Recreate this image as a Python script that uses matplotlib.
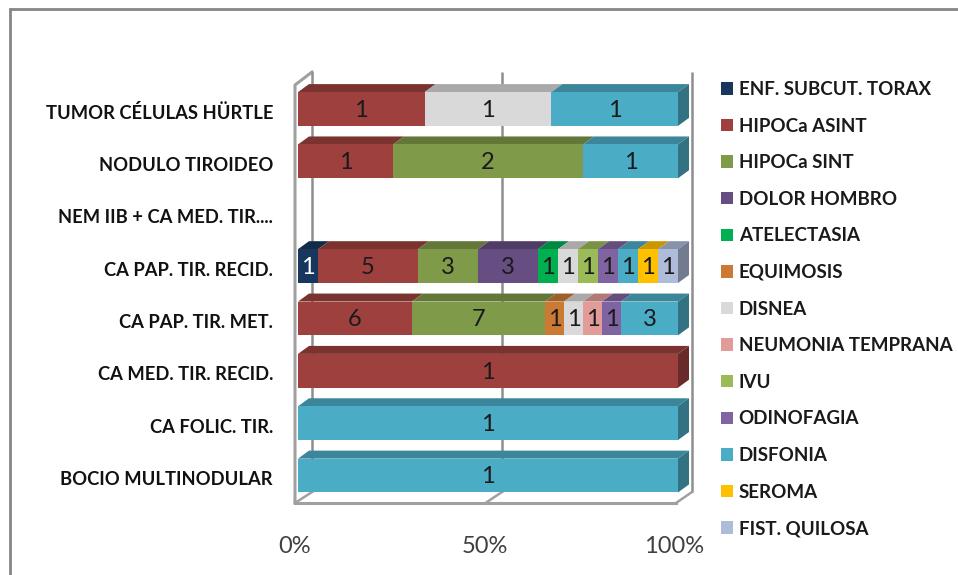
#!/usr/bin/env python3
"""Stacked 100% horizontal bars with a drawn 3D box: complications per diagnosis."""
import matplotlib
matplotlib.use("Agg")
import matplotlib.pyplot as plt
import numpy as np
from matplotlib.patches import Polygon
from matplotlib.transforms import ScaledTranslation

W, H = 958, 575
plt.rcParams["font.family"] = ["Lato", "DejaVu Sans"]

categories = [
    "TUMOR CÉLULAS HÜRTLE",
    "NODULO TIROIDEO",
    "NEM IIB + CA MED. TIR....",
    "CA PAP. TIR. RECID.",
    "CA PAP. TIR. MET.",
    "CA MED. TIR. RECID.",
    "CA FOLIC. TIR.",
    "BOCIO MULTINODULAR",
]
series_names = [
    "ENF. SUBCUT. TORAX", "HIPOCa ASINT", "HIPOCa SINT", "DOLOR HOMBRO",
    "ATELECTASIA", "EQUIMOSIS", "DISNEA", "NEUMONIA TEMPRANA", "IVU",
    "ODINOFAGIA", "DISFONIA", "SEROMA", "FIST. QUILOSA",
]
series_colors = [
    "#17375E", "#9E413E", "#7F9A48", "#664E82", "#00B050", "#CC7A33", "#D9D9D9",
    "#E19C9A", "#9BBB59", "#8064A2", "#4BACC6", "#FFC000", "#AEBBD9",
]
# one row per series, one column per category
enf_subcut = [0, 0, 0, 1, 0, 0, 0, 0]
hipoca_asint = [1, 1, 0, 5, 6, 1, 0, 0]
hipoca_sint = [0, 2, 0, 3, 7, 0, 0, 0]
dolor_hombro = [0, 0, 0, 3, 0, 0, 0, 0]
atelectasia = [0, 0, 0, 1, 0, 0, 0, 0]
equimosis = [0, 0, 0, 0, 1, 0, 0, 0]
disnea = [1, 0, 0, 1, 1, 0, 0, 0]
neumonia = [0, 0, 0, 0, 1, 0, 0, 0]
ivu = [0, 0, 0, 1, 0, 0, 0, 0]
odinofagia = [0, 0, 0, 1, 1, 0, 0, 0]
disfonia = [1, 1, 0, 1, 3, 0, 1, 1]
seroma = [0, 0, 0, 1, 0, 0, 0, 0]
fist_quilosa = [0, 0, 0, 1, 0, 0, 0, 0]
all_series = [
    enf_subcut, hipoca_asint, hipoca_sint, dolor_hombro, atelectasia, equimosis,
    disnea, neumonia, ivu, odinofagia, disfonia, seroma, fist_quilosa,
]
pct_ticks = [0, 50, 100]

fig = plt.figure(figsize=(W / 100, H / 100), dpi=100, facecolor="white")

# pixel-space layer for the sheet border and the box walls
bg = fig.add_axes([0, 0, 1, 1], zorder=0)
bg.set_xlim(0, W)
bg.set_ylim(H, 0)
bg.axis("off")

GREY = "#8E8E8E"
bg.plot([10, 10, W], [H, 9, 9], color="#858585", lw=2.0, solid_joinstyle="miter")
bg.plot([295, 295, 312], [503, 85, 72], color="#A0A0A0", lw=2.2)
bg.plot([295, 676], [503, 503], color="#A0A0A0", lw=2.2)
for p in pct_ticks:
    back_x = 312 + p * 3.8
    front_x = 295 + p * 3.81
    bg.plot([back_x, back_x], [72, 492], color=GREY, lw=1.8, solid_capstyle="butt")
    bg.plot([back_x, front_x], [492, 503], color="#A0A0A0", lw=1.8)

# data axes: the front plane of the bars, x 0-100 spans the bar width
band_top, band_bottom = 82.8, 501.7
ax = fig.add_axes(
    [298 / W, 1 - band_bottom / H, 380 / W, (band_bottom - band_top) / H],
    zorder=1,
)
ax.patch.set_visible(False)
ax.set_xlim(0, 100)
ax.set_ylim(len(categories) - 0.5, -0.5)
for side in ax.spines.values():
    side.set_visible(False)

y = np.arange(len(categories))
counts = np.array(all_series, dtype=float)
totals = counts.sum(axis=0)
totals[totals == 0] = 1
shares = counts / totals * 100

BAR_H = 0.645
DX = 11 / 3.8
DY = 8 / ((band_bottom - band_top) / len(categories))


def shade(color, k):
    rgb = np.array(matplotlib.colors.to_rgb(color))
    return tuple(rgb * k)


left = np.zeros(len(categories))
handles = []
for name, color, vals, pct in zip(series_names, series_colors, counts, shares):
    used = pct > 0
    bars = ax.barh(y[used], pct[used], left=left[used], height=BAR_H, color=color,
                   edgecolor="none", label=name, zorder=3)
    handles.append(bars)
    for i in y[used]:
        x0, x1 = left[i], left[i] + pct[i]
        top = y[i] - BAR_H / 2
        ax.add_patch(Polygon(
            [(x0, top), (x1, top), (x1 + DX, top - DY), (x0 + DX, top - DY)],
            facecolor=shade(color, 0.78), edgecolor="none", clip_on=False, zorder=2.5))
        # the end cap only shows on the last segment of a stack
        if abs(x1 - 100) < 1e-6:
            bottom = y[i] + BAR_H / 2
            ax.add_patch(Polygon(
                [(x1, top), (x1 + DX, top - DY), (x1 + DX, bottom - DY), (x1, bottom)],
                facecolor=shade(color, 0.66), edgecolor="none", clip_on=False, zorder=2.5))
    label_color = "white" if name == "ENF. SUBCUT. TORAX" else "#1A1A1A"
    texts = ax.bar_label(bars, labels=[f"{int(v)}" for v in vals[used]],
                         label_type="center", fontsize=17, color=label_color, zorder=4)
    for t in texts:
        t.xyann = (0, -1)
    left = left + pct

ax.set_yticks(y)
ax.set_yticklabels(categories, fontsize=13.2, fontweight="bold", color="#111111")
ax.tick_params(axis="y", length=0, pad=18)
shift_y = ScaledTranslation(0, -2.5 / 100, fig.dpi_scale_trans)
for lab in ax.get_yticklabels():
    lab.set_transform(lab.get_transform() + shift_y)

ax.set_xticks(pct_ticks)
ax.set_xticklabels([f"{p}%" for p in pct_ticks], fontsize=17, color="#404040")
ax.tick_params(axis="x", length=0, pad=25)
shift_x = ScaledTranslation(-3.5 / 100, 0, fig.dpi_scale_trans)
for lab in ax.get_xticklabels():
    lab.set_transform(lab.get_transform() + shift_x)

fig.legend(
    handles, series_names, loc="upper left", bbox_to_anchor=(721 / W, 1 - 81 / H),
    frameon=False, handlelength=0.64, handleheight=0.64, handletextpad=0.3,
    labelspacing=1.045, borderpad=0, borderaxespad=0, labelcolor="#1A1A1A",
    prop={"weight": "bold", "size": 13.5},
)

fig.savefig("out.png", dpi=100)
